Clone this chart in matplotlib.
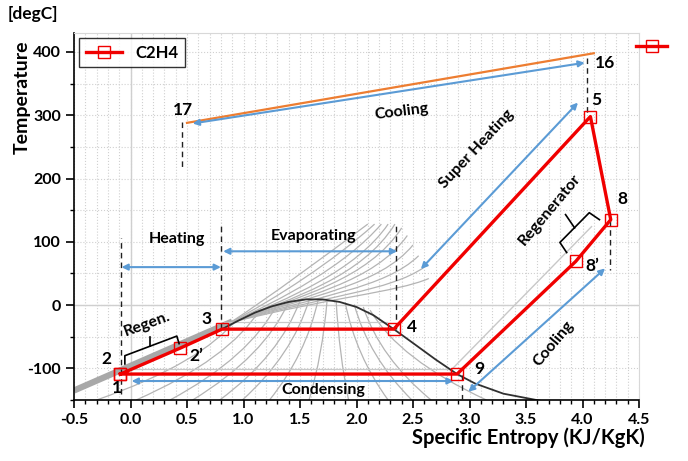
import matplotlib
matplotlib.use("Agg")
import matplotlib.pyplot as plt
from matplotlib.path import Path
from matplotlib.patches import PathPatch
from matplotlib.lines import Line2D
from matplotlib.ticker import MultipleLocator

plt.rcParams['font.family'] = ['Lato', 'DejaVu Sans']
plt.rcParams['font.weight'] = 'bold'
plt.rcParams['axes.unicode_minus'] = False

# C2H4 cycle states: 1(=2) -> 2' -> 3 -> 4 -> 5 -> 8 -> 8' -> 9 -> 1
cycle_s = [-0.09, 0.44, 0.81, 2.33, 4.07, 4.25, 3.94, 2.89, -0.09]
cycle_t = [-109, -68, -38, -38, 298, 135, 69, -109, -109]

# hot stream 17 -> 16
hot_s = [0.50, 4.10]
hot_t = [288, 398]

# saturation dome
dome_s = [0.82, 0.95, 1.10, 1.25, 1.40, 1.55, 1.70, 1.85, 2.00, 2.15, 2.33, 2.50, 2.70, 2.89, 3.05, 3.30, 3.65]
dome_t = [-37, -25, -12, -2, 5, 9, 9, 5, -3, -16, -38, -60, -86, -109, -124, -140, -152]

# supercritical isobars fanning out from the liquid band: c1, c2, end
fan_start = (0.88, -28)
fan_curves = [
    (1.25, 15, 1.70, 75, 2.10, 128),
    (1.30, 12, 1.80, 70, 2.16, 128),
    (1.35, 10, 1.90, 62, 2.22, 128),
    (1.40, 10, 2.00, 55, 2.28, 128),
    (1.45, 12, 2.05, 45, 2.34, 128),
    (1.50, 14, 2.10, 40, 2.40, 122),
    (1.55, 15, 2.15, 35, 2.45, 110),
    (1.60, 16, 2.20, 30, 2.50, 95),
    (1.65, 15, 2.25, 26, 2.55, 78),
    (1.70, 14, 2.30, 22, 2.60, 60),
    (1.75, 12, 2.35, 20, 2.64, 42),
]

# quality lines inside the dome: top point and bottom entropy at T=-150
quality_top_s = [0.95, 1.15, 1.30, 1.40, 1.50, 1.58, 1.66, 1.74, 1.82, 1.90, 1.98, 2.06, 2.12]
quality_top_t = [-20, -6, 2, 5, 7, 8, 8, 8, 6, 4, 1, -3, -8]
quality_bot_s = [-0.30, 0.05, 0.35, 0.55, 0.79, 0.99, 1.23, 1.58, 1.93, 2.28, 2.49, 2.66, 3.15]

# isotherms across the two-phase region
iso_t = [-27, -101]
iso_s0 = [0.83, -0.02]
iso_s1 = [2.27, 2.84]

labels = ['1', '2', "2\u2019", '3', '4', '5', '8', "8\u2019", '9', '16', '17']
label_s = [-0.12, -0.21, 0.58, 0.67, 2.49, 4.12, 4.35, 4.09, 3.09, 4.20, 0.46]
label_t = [-131, -85, -80, -22, -35, 324, 167, 61, -101, 383, 309]

red = '#f00000'
blue = '#5b9bd5'
orange = '#ed7d31'
grey = '#b4b4b4'

fig = plt.figure(figsize=(6.88, 4.61), dpi=100)
ax = fig.add_axes([74 / 688, 1 - 400 / 461, 565 / 688, 367 / 461])
ax.set_xlim(-0.5, 4.5)
ax.set_ylim(-150, 430)

# grid
ax.xaxis.set_major_locator(MultipleLocator(0.5))
ax.xaxis.set_minor_locator(MultipleLocator(0.1))
ax.yaxis.set_major_locator(MultipleLocator(100))
ax.yaxis.set_minor_locator(MultipleLocator(50))
ax.grid(True, which='both', ls=':', lw=0.8, color='#d0d0d0')
ax.axhline(0, color='#cfcfcf', lw=1.0, zorder=0.5)
ax.axvline(0, color='#cfcfcf', lw=1.0, zorder=0.5)
ax.set_axisbelow(True)

# background property lines
ax.plot([-0.5, 0.90], [-135, -26], color='#a8a8a8', lw=4.5, solid_capstyle='butt', zorder=1)
for c in fan_curves:
    verts = [fan_start, (c[0], c[1]), (c[2], c[3]), (c[4], c[5])]
    p = Path(verts, [Path.MOVETO, Path.CURVE4, Path.CURVE4, Path.CURVE4])
    ax.add_patch(PathPatch(p, fc='none', ec=grey, lw=0.9, zorder=1))
for xt, yt, xb in zip(quality_top_s, quality_top_t, quality_bot_s):
    ctrl = (xt + 0.25 * (xb - xt), yt - 0.55 * (yt + 150))
    p = Path([(xt, yt), ctrl, (xb, -150)], [Path.MOVETO, Path.CURVE3, Path.CURVE3])
    ax.add_patch(PathPatch(p, fc='none', ec=grey, lw=0.9, zorder=1))
for t, s0, s1 in zip(iso_t, iso_s0, iso_s1):
    ax.plot([s0, s1], [t, t], color='#c8c8c8', lw=0.9, zorder=1)
ax.plot([2.83, 4.08], [-104, 124], color='#c8c8c8', lw=1.0, zorder=1)

ax.plot(dome_s, dome_t, color='#303030', lw=1.3, zorder=2)

# hot stream
ax.plot(hot_s, hot_t, color=orange, lw=1.6, zorder=3)

# cycle
ax.plot(cycle_s, cycle_t, color=red, lw=2.4, marker='s', ms=8, mfc='none',
        mec=red, mew=1.0, zorder=4, label='C2H4')

# dashed guides
guides = [(-0.08, -140, 106), (0.80, -38, 131), (2.35, -38, 128), (2.93, -110, -150),
          (0.46, 290, 216), (4.04, 390, 304), (4.24, 135, 56)]
for gx, g0, g1 in guides:
    ax.plot([gx, gx], [g0, g1], color='#202020', lw=1.0, ls=(0, (4, 3)), zorder=3)

# process arrows
arrows = [((-0.08, 60), (0.80, 60)), ((0.82, 85), (2.36, 85)), ((0.01, -120), (2.86, -120)),
          ((0.55, 287), (4.02, 383)), ((2.57, 57), (3.96, 320)), ((2.99, -137), (4.20, 58))]
for a, b in arrows:
    ax.annotate('', xy=b, xytext=a,
                arrowprops=dict(arrowstyle='<|-|>', color=blue, lw=1.5,
                                mutation_scale=9, shrinkA=0, shrinkB=0), zorder=3)

# brackets
ax.plot([-0.05, -0.05, 0.41, 0.43], [-93, -80, -49, -61], color='black', lw=1.2, zorder=5)
ax.plot([0.17, 0.17], [-65, -50], color='black', lw=1.2, zorder=5)
ax.plot([3.86, 3.80, 4.06, 4.15], [83, 99, 146, 135], color='black', lw=1.2, zorder=5)
ax.plot([3.93, 3.85], [122, 143], color='black', lw=1.2, zorder=5)

for txt, s, t in zip(labels, label_s, label_t):
    ax.text(s, t, txt, fontsize=12.5, fontweight='bold', ha='center', va='center', zorder=6)

notes = [('Heating', 0.41, 104, 0), ('Evaporating', 1.62, 109, 0), ('Condensing', 1.71, -134, 0),
         ('Cooling', 2.40, 306, 7), ('Super Heating', 3.06, 246, 47), ('Regenerator', 3.71, 151, 50),
         ('Cooling', 3.74, -61, 50), ('Regen.', 0.15, -30, 20)]
for txt, s, t, rot in notes:
    ax.text(s, t, txt, fontsize=11.5, fontweight='bold', ha='center', va='center',
            rotation=rot, rotation_mode='anchor', zorder=6)

# axes styling
for side in ['top', 'right']:
    ax.spines[side].set_color('#d8d8d8')
for side in ['left', 'bottom']:
    ax.spines[side].set_color('black')
    ax.spines[side].set_linewidth(1.2)
ax.tick_params(which='major', direction='out', length=6, width=1.2, labelsize=11.5,
               top=False, right=False)
ax.tick_params(which='minor', direction='out', length=3, width=1.0, top=False, right=False)
ax.set_yticks([-100, 0, 100, 200, 300, 400])
for lab in ax.get_xticklabels() + ax.get_yticklabels():
    lab.set_fontweight('bold')

leg = ax.legend(loc='upper left', fontsize=12, frameon=True, fancybox=False,
                handlelength=2.2, borderpad=0.4, borderaxespad=0.3)
leg.get_frame().set_edgecolor('black')
leg.get_frame().set_linewidth(1.0)

fig.text(8 / 688, 1 - 14 / 461, '[degC]', fontsize=12.5, fontweight='bold', va='center')
fig.text(22 / 688, 1 - 97 / 461, 'Temperature', fontsize=14, fontweight='bold',
         rotation=90, ha='center', va='center')
fig.text(645 / 688, 1 - 438 / 461, 'Specific Entropy (KJ/KgK)', fontsize=14.5,
         fontweight='bold', ha='right', va='center')

fig.add_artist(Line2D([636 / 688, 652 / 688, 667 / 688], [1 - 46 / 461] * 3, color=red, lw=2.4,
                      marker='s', markevery=[1], ms=8, mfc='none', mec=red, mew=1.0))

fig.savefig('out.png', dpi=100)
